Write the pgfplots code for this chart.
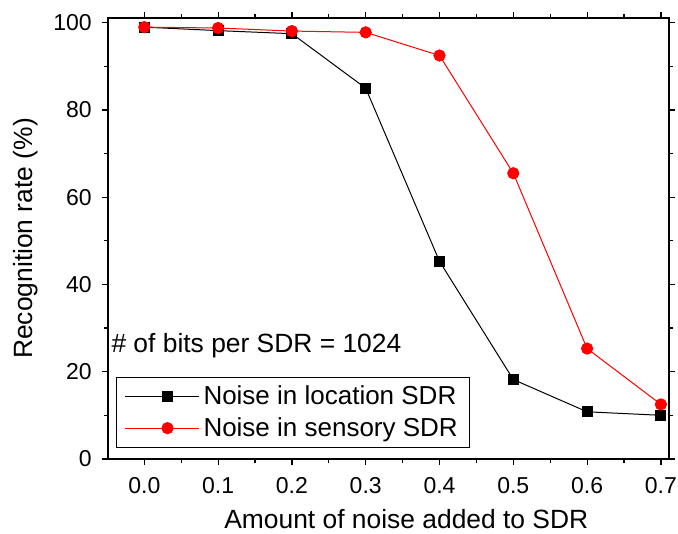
\documentclass[border=0pt]{standalone}
\usepackage{pgfplots}
\pgfplotsset{compat=1.18}
\usepackage{fontspec}
\setmainfont{Liberation Sans}
\begin{document}
\begin{tikzpicture}
\begin{axis}[
  scale only axis,
  width=280.7pt, height=220.5pt,
  xmin=-0.0496, xmax=0.711,
  ymin=0, ymax=101.1,
  xtick={0,0.1,0.2,0.3,0.4,0.5,0.6,0.7},
  xticklabels={0.0,0.1,0.2,0.3,0.4,0.5,0.6,0.7},
  ytick={0,20,40,60,80,100},
  minor x tick num=1,
  minor y tick num=1,
  tick align=outside,
  tick pos=both,
  major tick length=3pt,
  minor tick length=2pt,
  every tick/.style={black, line width=0.6pt},
  axis line style={line width=1pt},
  /pgf/number format/assume math mode=true,
  tick label style={font=\fontsize{11.5pt}{13pt}\selectfont},
  xticklabel style={yshift=-2.7pt},
  yticklabel style={xshift=-1.5pt},
  label style={font=\fontsize{13.2pt}{15pt}\selectfont},
  xlabel={Amount of noise added to SDR},
  ylabel={Recognition rate (\%)},
  xlabel style={at={(rel axis cs:0.532,-0.1587)}, anchor=base},
  ylabel style={at={(rel axis cs:-0.147,0.5)}, anchor=center, rotate=0},
  legend style={at={(rel axis cs:0.0148,0.186)}, anchor=north west,
    draw=black, line width=0.5pt, font=\fontsize{13pt}{15pt}\selectfont,
    inner xsep=4pt, inner ysep=2pt, row sep=1pt},
  legend cell align=left,
  legend image code/.code={\path (0pt,0pt) -- (37pt,0pt);\draw[mark repeat=2,mark phase=2] plot coordinates {(6.5pt,0pt) (21.25pt,0pt) (36pt,0pt)};},
]
\addplot[black, line width=0.5pt, mark=square*, mark size=2.5pt, mark options={solid, fill=black}]
  coordinates {(0.0,99.0) (0.1,98.2) (0.2,97.5) (0.3,85.0) (0.4,45.3) (0.5,18.2) (0.6,10.8) (0.7,10.0)};
\addlegendentry{Noise in location SDR}
\addplot[red, line width=0.5pt, mark=*, mark size=2.8pt, mark options={solid, fill=red, draw=red}]
  coordinates {(0.0,99.0) (0.1,98.8) (0.2,98.1) (0.3,97.8) (0.4,92.5) (0.5,65.5) (0.6,25.3) (0.7,12.5)};
\addlegendentry{Noise in sensory SDR}
\node[anchor=base west, inner sep=0pt, font=\fontsize{13.2pt}{15pt}\selectfont] at (axis cs:-0.045,24.3) {\# of bits per SDR = 1024};
\coordinate (bl) at (rel axis cs:-0.1919,-0.170);
\coordinate (tr) at (rel axis cs:1.016,1.0408);
\end{axis}
\pgfresetboundingbox
\path[use as bounding box] (bl) rectangle (tr);
\end{tikzpicture}
\end{document}
